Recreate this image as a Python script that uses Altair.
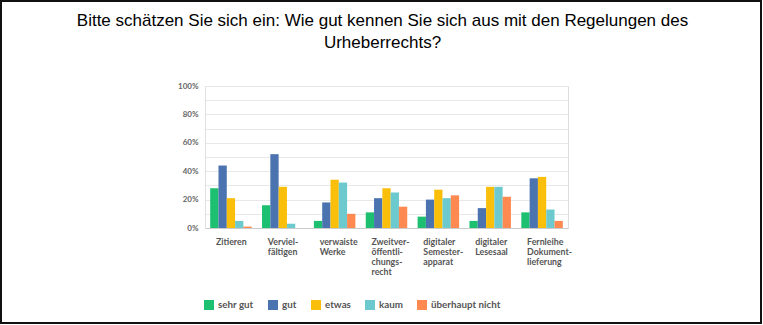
import altair as alt
import pandas as pd

categories = [
    "Zitieren",
    "Verviel-\nfältigen",
    "verwaiste\nWerke",
    "Zweitver-\nöffentli-\nchungs-\nrecht",
    "digitaler\nSemester-\napparat",
    "digitaler\nLesesaal",
    "Fernleihe\nDokument-\nlieferung",
]
levels = ["sehr gut", "gut", "etwas", "kaum", "überhaupt nicht"]
colors = ["#1cc070", "#4a73b0", "#fabf0a", "#6ccace", "#fe8a52"]

sehr_gut = [28, 16, 5, 11, 8, 5, 11]
gut = [44, 52, 18, 21, 20, 14, 35]
etwas = [21, 29, 34, 28, 27, 29, 36]
kaum = [5, 3, 32, 25, 21, 29, 13]
ueberhaupt_nicht = [1, 0, 10, 15, 23, 22, 5]

series = [sehr_gut, gut, etwas, kaum, ueberhaupt_nicht]
rows = []
for lvl, vals in zip(levels, series):
    for cat, v in zip(categories, vals):
        rows.append({"Kategorie": cat, "Antwort": lvl, "Wert": v})
df = pd.DataFrame(rows)

FONT = "Lato"

bars = alt.Chart(df).mark_bar().encode(
    x=alt.X(
        "Kategorie:N",
        sort=categories,
        scale=alt.Scale(paddingInner=0.2, paddingOuter=0.1),
        axis=alt.Axis(
            title=None,
            labelAngle=0,
            labelAlign="left",
            labelBaseline="top",
            labelOffset=-15,
            labelPadding=9,
            labelLineHeight=10,
            labelExpr="split(datum.label, '\\n')",
            labelFont=FONT,
            labelFontSize=8.8,
            labelFontWeight="bold",
            labelColor="#555555",
            ticks=False,
            domainColor="#cccccc",
        ),
    ),
    xOffset=alt.XOffset("Antwort:N", sort=levels, scale=alt.Scale(paddingInner=0, paddingOuter=0)),
    y=alt.Y(
        "Wert:Q",
        scale=alt.Scale(domain=[0, 100], nice=False),
        axis=alt.Axis(
            title=None,
            values=list(range(0, 101, 10)),
            labelExpr="datum.value % 20 == 0 ? datum.value + '%' : ''",
            labelFont=FONT,
            labelFontSize=8,
            labelFontWeight="bold",
            labelColor="#666666",
            labelPadding=7,
            ticks=False,
            domainColor="#e0e0e0",
            gridColor="#e8e8e8",
        ),
    ),
    color=alt.Color(
        "Antwort:N",
        sort=levels,
        scale=alt.Scale(domain=levels, range=colors),
        legend=alt.Legend(
            title=None,
            orient="none",
            direction="horizontal",
            legendX=-1,
            legendY=214,
            symbolType="square",
            symbolSize=100,
            symbolStrokeWidth=0,
            labelFont=FONT,
            labelFontSize=9.8,
            labelFontWeight="bold",
            labelColor="#555555",
            columnPadding=14,
            labelOffset=4,
        ),
    ),
)

frame = alt.Chart(pd.DataFrame({"a": [0]})).mark_rect(
    fill=None, stroke="#111111", strokeWidth=2
).encode(
    x=alt.value(-204), x2=alt.value(556), y=alt.value(-85), y2=alt.value(237)
)

chart = alt.layer(bars, frame).properties(
    width=363,
    height=142,
    title=alt.Title(
        ["Bitte schätzen Sie sich ein: Wie gut kennen Sie sich aus mit den Regelungen des", "Urheberrechts?"],
        font="Liberation Sans",
        fontSize=17,
        fontWeight="normal",
        color="#000000",
        anchor="middle",
        frame="group",
        dx=-4,
        offset=0,
        dy=52,
        lineHeight=22,
    ),
    autosize=alt.AutoSizeParams(type="none"),
    padding={"left": 205, "top": 86, "right": 195, "bottom": 97},
).configure_view(stroke=None).configure(background="white")

chart.save("out.html", embed_options={"renderer": "svg", "actions": False})
